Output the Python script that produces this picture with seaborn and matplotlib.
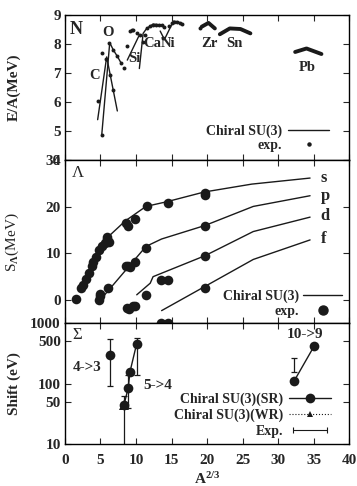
import numpy as np
import pandas as pd
import matplotlib.pyplot as plt
import seaborn as sns
from matplotlib.lines import Line2D
from matplotlib.legend_handler import HandlerLine2D

sns.set_theme(style="ticks")
plt.rcParams['font.family'] = ['Liberation Serif', 'DejaVu Serif']
plt.rcParams['font.weight'] = 'bold'
plt.rcParams['mathtext.fontset'] = 'custom'
plt.rcParams['mathtext.rm'] = 'Liberation Serif'
plt.rcParams['mathtext.it'] = 'Liberation Serif'
plt.rcParams['mathtext.bf'] = 'Liberation Serif:bold'
plt.rcParams['xtick.direction'] = 'in'
plt.rcParams['ytick.direction'] = 'in'
plt.rcParams['axes.edgecolor'] = 'black'

# ---- panel 1: binding energy per nucleon (N) ----
n_exp_x = [4.6, 5.17, 5.2, 5.77, 6.24, 6.34, 6.8, 6.8, 7.37, 7.84, 8.3, 8.68, 9.15, 9.4, 9.62,
           10.1, 10.56, 11.0, 11.3, 11.6, 12.0, 12.4, 12.8, 13.2, 13.6, 14.0, 13.85, 14.6, 15.0,
           15.4, 15.8, 16.2, 16.5, 19.0]
n_exp_y = [6.04, 7.7, 4.86, 7.5, 8.05, 6.93, 6.41, 7.79, 7.59, 7.36, 7.18, 7.93, 8.46, 8.5, 8.48,
           8.4, 8.33, 8.08, 8.3, 8.55, 8.62, 8.66, 8.67, 8.67, 8.65, 8.6, 8.2, 8.62, 8.72,
           8.76, 8.77, 8.74, 8.7, 8.55]

n_calc_seg = ['C'] * 3 + ['O'] * 5 + ['Si'] * 2 + ['Ca'] * 6 + ['Ni'] * 6
n_calc_x = [4.6, 5.87, 7.37,
            5.17, 6.3, 6.8, 7.37, 7.9,
            8.77, 10.46,
            10.47, 11.0, 11.5, 12.4, 13.6, 14.1,
            13.4, 14.0, 15.0, 15.25, 15.96, 16.4]
n_calc_y = [5.4, 7.56, 5.7,
            4.86, 8.05, 7.8, 7.58, 7.35,
            7.45, 8.31,
            7.16, 8.37, 8.54, 8.69, 8.66, 8.54,
            8.45, 8.16, 8.66, 8.79, 8.77, 8.69]

heavy_seg = ['Zr'] * 3 + ['Sn'] * 4 + ['Pb'] * 3
heavy_x = [19.25, 20.2, 21.1, 21.8, 23.2, 24.7, 26.1, 32.4, 34.0, 36.1]
heavy_y = [8.6, 8.73, 8.54, 8.34, 8.54, 8.52, 8.37, 7.73, 7.85, 7.66]

nuc_labels = ['C', 'O', 'Si', 'Ca', 'Ni', 'Zr', 'Sn', 'Pb']
nuc_lab_x = [4.1, 6.05, 9.7, 12.35, 14.45, 20.4, 23.9, 34.1]
nuc_lab_y = [6.93, 8.41, 7.52, 8.03, 8.03, 8.03, 8.03, 7.2]

# ---- panel 2: Lambda single particle energies ----
lam_shells = ['s', 'p', 'd', 'f']
lam_calc = {
    's': ([2.0, 3.0, 4.0, 5.0, 6.1, 8.5, 11.4, 14.3, 19.6, 26.3, 34.5],
          [2.0, 5.0, 8.0, 10.8, 13.6, 17.0, 20.1, 21.1, 23.2, 24.9, 26.2]),
    'p': ([5.2, 11.4, 13.6, 19.7, 26.5, 34.5],
          [0.4, 11.5, 13.1, 16.0, 20.1, 22.4]),
    'd': ([10.1, 12.0, 12.4, 19.7, 26.5, 34.5],
          [1.1, 3.6, 5.0, 9.5, 14.7, 17.8]),
    'f': ([13.6, 19.7, 26.5, 34.5],
          [-2.3, 2.9, 8.7, 12.9]),
}
lam_exp_x = [1.55, 2.2, 2.6, 2.96, 3.4, 3.76, 4.0, 4.37, 4.84, 5.16, 5.63, 5.87, 5.96, 6.24,
             8.6, 8.9, 9.86, 11.5, 14.46, 19.7, 19.7,
             4.84, 4.93, 5.0, 6.1, 8.6, 8.9, 9.2, 9.86, 11.4, 19.7,
             8.7, 9.0, 9.6, 9.9, 11.4, 13.5, 14.46, 19.7,
             13.5, 14.46, 19.7]
lam_exp_y = [0.15, 2.5, 3.2, 4.4, 5.7, 7.2, 8.2, 9.3, 10.8, 11.6, 12.2, 13.6, 13.0, 12.5,
             16.5, 15.8, 17.4, 20.1, 20.9, 22.9, 22.5,
             0.0, 0.9, 1.3, 2.5, 7.3, 7.2, 7.0, 8.2, 11.1, 16.0,
             -1.8, -1.9, -1.4, -1.2, 1.1, 4.3, 4.3, 9.5,
             -4.9, -4.9, 2.6]
shell_lab_y = [26.3, 22.3, 18.0, 13.0]

# ---- panel 3: Sigma atom level shifts ----
sr_seg = ['a', 'b', 'b', 'b', 'b', 'c', 'c']
sr_x = [6.34, 8.3, 8.9, 9.15, 10.1, 32.25, 35.07]
sr_y = [296, 44, 85, 157, 461, 110, 417]
wr_x = [8.3]
wr_y = [44]
exp_x = [6.34, 8.3, 8.9, 10.1, 32.2]
exp_y = [300, 45, 85, 450, 200]
exp_lo = [90, 1, 40, 138, 153]
exp_hi = [540, 62, 140, 577, 270]
trans_labels = ['4->3', '5->4', '10->9']
trans_x = [3.1, 13.1, 33.8]
trans_y = [187, 94, 640]

fig = plt.figure(figsize=(3.57, 4.86), dpi=100)
ax1 = fig.add_axes([0.182, 0.670, 0.796, 0.299])
ax2 = fig.add_axes([0.182, 0.335, 0.796, 0.335])
ax3 = fig.add_axes([0.182, 0.0864, 0.796, 0.2486])

tick_fs = 11
for ax in (ax1, ax2, ax3):
    ax.set_xlim(0, 40)
    ax.set_xticks(np.arange(0, 41, 5))
    ax.tick_params(top=True, right=True, length=4, width=0.8, labelsize=tick_fs, pad=3)
    ax.tick_params(axis='x', pad=7)
    for s in ax.spines.values():
        s.set_linewidth(1.0)
    ax.grid(False)

# panel 1
df_n = pd.DataFrame({'seg': n_calc_seg, 'x': n_calc_x, 'y': n_calc_y})
sns.lineplot(data=df_n, x='x', y='y', units='seg', estimator=None, sort=False,
             color='k', lw=1.0, ax=ax1)
df_h = pd.DataFrame({'seg': heavy_seg, 'x': heavy_x, 'y': heavy_y})
sns.lineplot(data=df_h, x='x', y='y', units='seg', estimator=None, sort=False,
             color='k', lw=2.8, ax=ax1)
sns.scatterplot(x=n_exp_x, y=n_exp_y, color='k', s=8, linewidth=0, ax=ax1)
for lab, lx, ly in zip(nuc_labels, nuc_lab_x, nuc_lab_y):
    ax1.text(lx, ly, lab, ha='center', va='center', fontsize=10.5, fontweight='bold')
ax1.text(0.015, 0.96, 'N', transform=ax1.transAxes, ha='left', va='top',
         fontsize=13, fontweight='bold')
ax1.set_ylim(4, 9)
ax1.set_yticks([4, 5, 6, 7, 8, 9])
ax1.set_xticklabels([])
ax1.set_xlabel('')
ax1.set_ylabel('E/A(MeV)', fontsize=11, fontweight='bold')
h1 = [Line2D([], [], color='k', lw=1.0),
      Line2D([], [], color='k', lw=0, marker='o', ms=2.2)]
ax1.legend(h1, ['Chiral SU(3)', 'exp.'], loc='lower right', frameon=False,
           markerfirst=False, fontsize=10, handlelength=3.0, handletextpad=0.4,
           labelspacing=0.05, bbox_to_anchor=(0.96, 0.0), borderaxespad=0.2)

# panel 2
for sh in lam_shells:
    xs, ys = lam_calc[sh]
    sns.lineplot(x=xs, y=ys, color='k', lw=1.0, estimator=None, sort=False, ax=ax2)
sns.scatterplot(x=lam_exp_x, y=lam_exp_y, color='k', s=48, linewidth=0, ax=ax2, zorder=3)
for sh, ly in zip(lam_shells, shell_lab_y):
    ax2.text(36.0, ly, sh, ha='left', va='center', fontsize=12, fontweight='bold')
ax2.text(0.025, 0.97, 'Λ', transform=ax2.transAxes, ha='left', va='top',
         fontsize=12, fontweight='normal')
ax2.set_ylim(-5, 30)
ax2.set_yticks([0, 10, 20, 30])
ax2.set_xticklabels([])
ax2.set_xlabel('')
ax2.set_ylabel(r'S$_\Lambda$(MeV)', fontsize=11, fontweight='normal')
h2 = [Line2D([], [], color='k', lw=1.0),
      Line2D([], [], color='k', lw=0, marker='o', ms=6.5)]
ax2.legend(h2, ['Chiral SU(3)', 'exp.'], loc='lower right', frameon=False,
           markerfirst=False, fontsize=10, handlelength=2.8, handletextpad=0.3,
           labelspacing=0.1, bbox_to_anchor=(1.0, -0.01), borderaxespad=0.1)

# panel 3
df_sr = pd.DataFrame({'seg': sr_seg, 'x': sr_x, 'y': sr_y})
sns.lineplot(data=df_sr, x='x', y='y', units='seg', estimator=None, sort=False,
             color='k', lw=1.0, marker='o', markersize=7, markeredgewidth=0, ax=ax3)
sns.lineplot(x=wr_x, y=wr_y, color='k', lw=1.0, ls=':', marker='^', markersize=7,
             markeredgewidth=0, estimator=None, ax=ax3)
yerr = [np.array(exp_y) - np.array(exp_lo), np.array(exp_hi) - np.array(exp_y)]
ax3.errorbar(exp_x, exp_y, yerr=yerr, fmt='none', ecolor='k', elinewidth=0.9,
             capsize=2.5, capthick=0.9)
for lab, lx, ly in zip(trans_labels, trans_x, trans_y):
    ax3.text(lx, ly, lab, ha='center', va='center', fontsize=11, fontweight='bold')
ax3.text(0.025, 0.97, 'Σ', transform=ax3.transAxes, ha='left', va='top',
         fontsize=12, fontweight='normal')
ax3.set_yscale('log')
ax3.set_ylim(10, 1000)
ax3.set_yticks([10, 50, 100, 500, 1000])
ax3.set_yticklabels(['10', '50', '100', '500', '1000'])
ax3.minorticks_off()
ax3.set_ylabel('Shift (eV)', fontsize=11, fontweight='bold')
ax3.set_xlabel(r'A$^{\mathbf{2/3}}$', fontsize=11, fontweight='bold', labelpad=3)

for ax in (ax1, ax2, ax3):
    ax.yaxis.set_label_coords(-0.155, 0.5)

h_sr = Line2D([], [], color='k', lw=1.0, marker='o', ms=7, mew=0)
h_wr = Line2D([], [], color='k', lw=0.8, ls=':', marker='^', ms=5, mew=0)
h_ex = Line2D([], [], color='k', lw=0.8, marker='|', ms=5, mew=0.8)
ax3.legend([h_sr, h_wr, h_ex], ['Chiral SU(3)(SR)', 'Chiral SU(3)(WR)', 'Exp.'],
           loc='lower right', frameon=False, markerfirst=False, fontsize=10,
           handlelength=3.0, handletextpad=0.4, labelspacing=0.22,
           bbox_to_anchor=(0.96, -0.01), borderaxespad=0.1,
           handler_map={h_ex: HandlerLine2D(numpoints=2)})

fig.savefig('out.png', dpi=100)
